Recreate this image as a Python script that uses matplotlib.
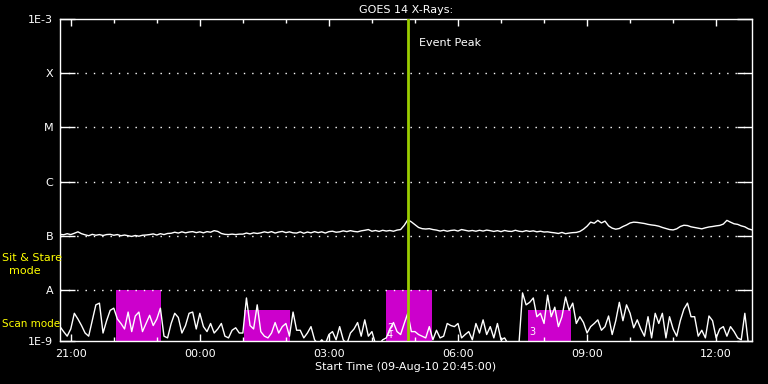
import numpy as np
import pandas as pd
import matplotlib
matplotlib.use('Agg')
import matplotlib.pyplot as plt
import matplotlib.dates as mdates
from matplotlib.ticker import NullLocator, FixedLocator, FixedFormatter

# GOES 14 X-ray flux, 5 minute samples from 09-Aug-10 20:45
start = '2010-08-09 20:45'
end = '2010-08-10 12:50'

# long channel (1-8 A), units of 1e-7 W/m^2
long_ch = [
    1.06, 1.04, 1.09, 1.05, 1.11, 1.18, 1.09,
    1.04, 1.00, 1.06, 1.02, 1.05, 1.01, 1.05, 1.06, 1.02, 1.05, 1.00, 1.03,
    1.00, 0.97, 1.01, 0.98, 1.02, 1.03,
    1.05, 1.08, 1.03, 1.09, 1.05, 1.10,
    1.11, 1.16, 1.12, 1.18, 1.13, 1.17, 1.19, 1.14, 1.18, 1.13, 1.19, 1.16,
    1.24, 1.20,
    1.10, 1.06, 1.05, 1.07, 1.05, 1.07,
    1.07, 1.12, 1.08, 1.13, 1.10,
    1.13, 1.18, 1.14, 1.19, 1.12, 1.17, 1.20, 1.14, 1.18, 1.13,
    1.12, 1.18, 1.11, 1.17, 1.13, 1.19, 1.14, 1.18, 1.12, 1.19, 1.21, 1.16,
    1.18, 1.23, 1.19, 1.24, 1.20, 1.18, 1.23, 1.26,
    1.30,
    1.21, 1.25, 1.20, 1.26, 1.22, 1.25, 1.21, 1.27,
    1.30, 1.55, 1.97, 1.80, 1.60, 1.42, 1.35,
    1.33, 1.35, 1.30,
    1.27, 1.22, 1.26, 1.21, 1.25, 1.27, 1.22, 1.30, 1.26, 1.22, 1.25, 1.21, 1.26, 1.22, 1.27, 1.24,
    1.20, 1.24, 1.19, 1.25, 1.21, 1.20, 1.26, 1.21, 1.19, 1.24, 1.20, 1.23, 1.18, 1.21, 1.17, 1.18, 1.15,
    1.13, 1.10, 1.15, 1.09, 1.12, 1.14,
    1.15, 1.20, 1.32, 1.50, 1.78, 1.70, 1.92, 1.72, 1.86, 1.52, 1.38, 1.32,
    1.36, 1.48, 1.58, 1.72, 1.78, 1.76, 1.72, 1.68, 1.62, 1.58, 1.55, 1.50,
    1.42, 1.36, 1.30, 1.28, 1.34, 1.48, 1.56, 1.54, 1.46, 1.42, 1.38, 1.34,
    1.40, 1.45, 1.48, 1.52, 1.55, 1.64, 1.92, 1.78, 1.66, 1.62, 1.52, 1.46,
    1.34, 1.28,
]

# short channel (0.5-4 A), units of 1e-9 W/m^2
short_ch = [
    2.1, 1.7, 1.4, 1.9, 3.7, 2.9, 2.2, 1.6, 1.4, 2.7,
    5.3, 5.7, 1.6, 2.7, 4.2, 4.6, 2.9, 2.4, 1.9, 3.9,
    1.7, 3.3, 3.9, 1.7, 2.4, 3.4, 2.2, 2.9, 4.6, 1.4,
    1.3, 2.4, 3.7, 3.1, 1.6, 2.2, 3.7, 3.9, 1.9, 3.7,
    2.1, 1.7, 2.4, 1.6, 1.9, 2.4, 1.4, 1.3, 1.8, 2.0,
    1.6, 1.6, 7.1, 2.2, 1.9, 5.3, 1.7, 1.4, 1.3, 1.6,
    2.5, 1.6, 2.1, 2.4, 1.4, 3.9, 1.8, 1.8, 1.3, 1.6,
    2.1, 1.2, 1.0, 1.2, 1.0, 1.5, 1.7, 1.2, 2.1, 1.2,
    1.0, 1.6, 1.9, 2.5, 1.4, 2.8, 1.4, 1.7, 1.0, 1.0,
    1.2, 1.3, 1.9, 2.5, 1.7, 1.5, 2.4, 3.7, 1.7, 1.7,
    1.5, 1.4, 1.3, 2.1, 1.2, 1.8, 1.3, 1.4, 2.4, 2.2,
    2.1, 2.4, 1.3, 1.5, 1.7, 1.2, 2.4, 1.6, 2.8, 1.5,
    2.1, 1.3, 2.4, 1.2, 1.3, 1.0, 1.0, 1.0, 1.0, 8.8,
    5.3, 5.9, 7.1, 3.2, 3.7, 2.4, 8.0, 3.2, 4.8, 2.1,
    3.2, 7.4, 4.2, 5.7, 2.4, 3.2, 2.5, 1.6, 2.1, 2.4,
    2.8, 1.8, 2.1, 3.3, 1.5, 2.7, 5.9, 2.7, 5.3, 3.7,
    2.0, 2.8, 1.9, 1.4, 3.2, 1.3, 3.7, 2.4, 3.7, 1.3,
    3.2, 1.9, 1.4, 2.7, 4.4, 5.7, 3.2, 3.2, 1.4, 1.8,
    1.3, 3.3, 2.7, 1.3, 1.9, 2.1, 1.4, 2.1, 1.7, 1.3,
    1.2, 3.7, 1.0, 1.0,
]

# instrument observing modes: (start, end, level)
sit_stare_level = 1e-8
scan_level = 4.25e-9
mode_blocks = [
    ('2010-08-09 22:03', '2010-08-09 23:06', sit_stare_level),
    ('2010-08-10 01:02', '2010-08-10 02:06', scan_level),
    ('2010-08-10 04:20', '2010-08-10 05:24', sit_stare_level),
    ('2010-08-10 07:37', '2010-08-10 08:38', scan_level),
]
block_labels = [('2010-08-10 04:21', 2.0e-9, '2'), ('2010-08-10 04:21', 1.5e-9, '4'),
                ('2010-08-10 07:39', 1.65e-9, '3')]
event_peak = '2010-08-10 04:50'

goes_levels = [1.14e-9, 1e-8, 1e-7, 1e-6, 1e-5, 1e-4, 1e-3]
goes_names = ['1E-9', 'A', 'B', 'C', 'M', 'X', '1E-3']

times = pd.date_range(start, periods=len(short_ch), freq='5min')
long_flux = np.array(long_ch) * 1e-7
short_flux = np.array(short_ch) * 1e-9

fg = 'white'
fig = plt.figure(figsize=(7.68, 3.84), dpi=100, facecolor='black')
ax = fig.add_axes([60 / 768, 43 / 384, 692 / 768, 322 / 384], facecolor='black')

for t0, t1, lev in mode_blocks:
    ax.fill_between([pd.Timestamp(t0), pd.Timestamp(t1)], 1e-10, lev,
                    color='#cc00cc', lw=0, zorder=1)
for t, y, s in block_labels:
    ax.text(pd.Timestamp(t), y, s, color=fg, fontsize=7, ha='left', va='center', zorder=3)

for lev in goes_levels[1:-1]:
    ax.axhline(lev, color=fg, lw=1, linestyle=(0, (1, 5)), zorder=2)

ax.plot(times[:len(long_flux)], long_flux, color=fg, lw=1, zorder=4)
ax.plot(times, short_flux, color=fg, lw=1, zorder=4)

ax.axvline(pd.Timestamp(event_peak), color='#9acd00', lw=2, zorder=5)
ax.text(pd.Timestamp('2010-08-10 05:05'), 3.6e-4, 'Event Peak', color=fg,
        fontsize=8, ha='left', va='center')

ax.set_yscale('log')
ax.set_ylim(goes_levels[0], goes_levels[-1])
ax.set_xlim(pd.Timestamp(start), pd.Timestamp(end))
ax.yaxis.set_major_locator(FixedLocator(goes_levels))
ax.yaxis.set_major_formatter(FixedFormatter(goes_names))
ax.yaxis.set_minor_locator(NullLocator())

ax.xaxis.set_major_locator(mdates.HourLocator(byhour=range(0, 24, 3)))
ax.xaxis.set_minor_locator(mdates.HourLocator())
ax.xaxis.set_major_formatter(mdates.DateFormatter('%H:%M'))

ax.tick_params(axis='y', which='major', direction='in', length=11, width=1,
               color=fg, labelcolor=fg, labelsize=8, right=True, pad=5)
ax.tick_params(axis='x', which='major', direction='in', length=5, width=1,
               color=fg, labelcolor=fg, labelsize=8, top=True, pad=6)
ax.tick_params(axis='x', which='minor', direction='in', length=3, width=1,
               color=fg, top=True)
for sp in ax.spines.values():
    sp.set_color(fg)
    sp.set_linewidth(1)

ax.set_title('GOES 14 X-Rays:', color=fg, fontsize=8, pad=4)
ax.set_xlabel('Start Time (09-Aug-10 20:45:00)', color=fg, fontsize=8, labelpad=2)

fig.text(2 / 768, 1 - 258 / 384, 'Sit & Stare', color='yellow', fontsize=8,
         ha='left', va='center')
fig.text(25 / 768, 1 - 271 / 384, 'mode', color='yellow', fontsize=8,
         ha='center', va='center')
fig.text(2 / 768, 1 - 324 / 384, 'Scan mode', color='yellow', fontsize=7.5,
         ha='left', va='center')

fig.savefig('out.png', dpi=100, facecolor='black')
